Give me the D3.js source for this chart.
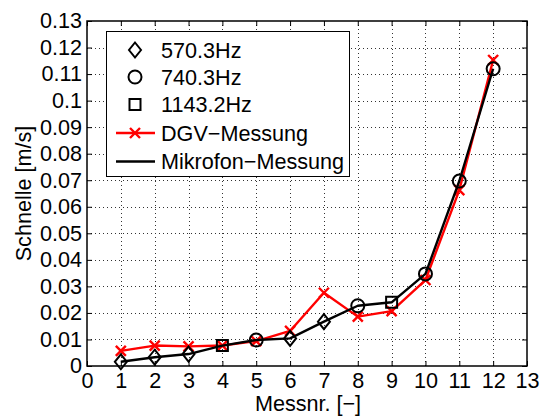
<!DOCTYPE html>
<html>
<head>
<meta charset="utf-8">
<script src="https://cdn.jsdelivr.net/npm/d3@7"></script>
<style>
  body { margin: 0; background: #fff; }
  svg { display: block; font-family: "Liberation Sans", Arial, sans-serif; }
</style>
</head>
<body>
<div id="chart"></div>
<script>
// measurement numbers
const messNr = [1, 2, 3, 4, 5, 6, 7, 8, 9, 10, 11, 12];
// marker type per measurement: which frequency it belongs to
const freqOf = ["570.3Hz", "570.3Hz", "570.3Hz", "1143.2Hz", "740.3Hz", "570.3Hz",
                "570.3Hz", "740.3Hz", "1143.2Hz", "740.3Hz", "740.3Hz", "740.3Hz"];
const mikrofon = [0.0016, 0.0033, 0.0045, 0.0077, 0.0098, 0.0104, 0.0167, 0.0227, 0.0240, 0.0347, 0.0697, 0.1120];
const dgv = [0.0057, 0.0077, 0.0074, 0.0077, 0.0094, 0.0132, 0.0276, 0.0186, 0.0207, 0.0324, 0.0663, 0.1153];
const xTicks = d3.range(0, 14);
const yTicks = d3.range(0, 14).map(d => d / 100);
const legendItems = ["570.3Hz", "740.3Hz", "1143.2Hz", "DGV\u2212Messung", "Mikrofon\u2212Messung"];

const w = 545, h = 417;
const m = { left: 87, right: 18, top: 21, bottom: 51 };
const fs = "21.6px";

const svg = d3.select("#chart").append("svg").attr("width", w).attr("height", h);

const x = d3.scaleLinear().domain([0, 13]).range([m.left, w - m.right]);
const y = d3.scaleLinear().domain([0, 0.13]).range([h - m.bottom, m.top]);

// grid
const grid = svg.append("g").attr("stroke", "#333").attr("stroke-width", 1)
  .attr("stroke-dasharray", "1,3");
grid.selectAll(".gx").data(xTicks.slice(1, -1)).enter().append("line")
  .attr("x1", d => Math.round(x(d)) + 0.5).attr("x2", d => Math.round(x(d)) + 0.5)
  .attr("y1", y(0)).attr("y2", y(0.13));
grid.selectAll(".gy").data(yTicks.slice(1, -1)).enter().append("line")
  .attr("y1", d => Math.round(y(d)) + 0.5).attr("y2", d => Math.round(y(d)) + 0.5)
  .attr("x1", x(0)).attr("x2", x(13));

// axes (ticks inside)
const fmtY = d => d3.format("")(+d.toFixed(2));
const axB = svg.append("g").attr("transform", `translate(0,${y(0)})`)
  .call(d3.axisBottom(x).tickValues(xTicks).tickSizeInner(-5).tickSizeOuter(0).tickPadding(6.5));
const axT = svg.append("g").attr("transform", `translate(0,${y(0.13)})`)
  .call(d3.axisTop(x).tickValues(xTicks).tickSizeInner(-5).tickSizeOuter(0).tickFormat(""));
const axL = svg.append("g").attr("transform", `translate(${x(0)},0)`)
  .call(d3.axisLeft(y).tickValues(yTicks).tickSizeInner(-5).tickSizeOuter(0).tickPadding(5).tickFormat(fmtY));
const axR = svg.append("g").attr("transform", `translate(${x(13)},0)`)
  .call(d3.axisRight(y).tickValues(yTicks).tickSizeInner(-5).tickSizeOuter(0).tickFormat(""));
[axB, axT, axL, axR].forEach(a => {
  a.selectAll("path").remove();
  a.selectAll("line").attr("stroke", "#000");
  a.selectAll("text").attr("fill", "#000").style("font-size", fs)
    .style("font-family", "'Liberation Sans', Arial, sans-serif");
});

// frame
svg.append("rect").attr("x", x(0)).attr("y", y(0.13))
  .attr("width", x(13) - x(0)).attr("height", y(0) - y(0.13))
  .attr("fill", "none").attr("stroke", "#000").attr("stroke-width", 1.5);

// axis labels
svg.append("text").attr("x", (x(0) + x(13)) / 2 + 1).attr("y", 411)
  .attr("text-anchor", "middle").style("font-size", fs).text("Messnr. [\u2212]");
svg.append("text").attr("transform", `translate(31,${(y(0) + y(0.13)) / 2}) rotate(-90)`)
  .attr("text-anchor", "middle").style("font-size", fs).text("Schnelle [m/s]");

// lines
const line = d3.line().x((d, i) => x(messNr[i])).y(d => y(d));
svg.append("path").datum(dgv).attr("d", line).attr("fill", "none")
  .attr("stroke", "#ff0000").attr("stroke-width", 2.4).attr("stroke-linejoin", "round");

// red x markers
const cross = s => `M${-s},${-s}L${s},${s}M${-s},${s}L${s},${-s}`;
svg.selectAll(".dx").data(dgv).enter().append("path")
  .attr("transform", (d, i) => `translate(${x(messNr[i])},${y(d)})`)
  .attr("d", cross(5)).attr("stroke", "#ff0000").attr("stroke-width", 2.4).attr("fill", "none");

svg.append("path").datum(mikrofon).attr("d", line).attr("fill", "none")
  .attr("stroke", "#000").attr("stroke-width", 2.4).attr("stroke-linejoin", "round");

function markerPath(f) {
  if (f === "570.3Hz") return "M0,-7.5L6,0L0,7.5L-6,0Z";
  if (f === "740.3Hz") return d3.symbol(d3.symbolCircle, Math.PI * 6.5 * 6.5)();
  return "M-5.5,-5.5L5.5,-5.5L5.5,5.5L-5.5,5.5Z";
}
svg.selectAll(".mk").data(mikrofon).enter().append("path")
  .attr("transform", (d, i) => `translate(${x(messNr[i])},${y(d)})`)
  .attr("d", (d, i) => markerPath(freqOf[i]))
  .attr("fill", "none").attr("stroke", "#000").attr("stroke-width", 2);

// legend
const lg = svg.append("g");
lg.append("rect").attr("x", 106.5).attr("y", 31.5).attr("width", 243).attr("height", 145)
  .attr("fill", "#fff").attr("stroke", "#000").attr("stroke-width", 1);
const rowY = [50, 77, 104.5, 133, 161.5];
legendItems.forEach((t, i) => {
  const g = lg.append("g").attr("transform", `translate(0,${rowY[i]})`);
  if (i < 3) {
    g.append("path").attr("transform", "translate(135,0)").attr("d", markerPath(legendItems[i]))
      .attr("fill", "none").attr("stroke", "#000").attr("stroke-width", 2);
  } else {
    const col = i === 3 ? "#ff0000" : "#000";
    g.append("line").attr("x1", 116).attr("x2", 155).attr("y1", 0).attr("y2", 0)
      .attr("stroke", col).attr("stroke-width", 2.4);
    if (i === 3) g.append("path").attr("transform", "translate(135,0)").attr("d", cross(5))
      .attr("stroke", col).attr("stroke-width", 2.4);
  }
  g.append("text").attr("x", 161).attr("y", 7.5).style("font-size", fs).text(t);
});
</script>
</body>
</html>
